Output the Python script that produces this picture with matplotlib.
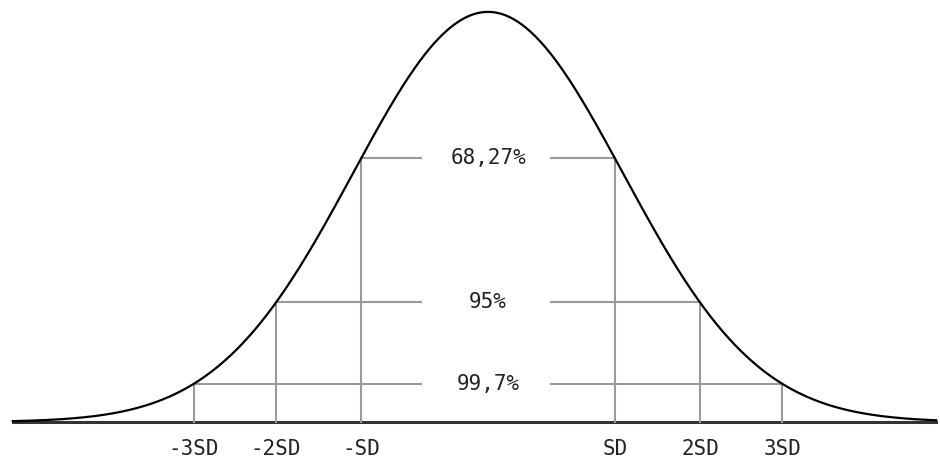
import numpy as np
import matplotlib.pyplot as plt

# distances (in sd units) where the bands meet the curve
sd_pos = [0.94, 1.57, 2.18]
band_labels = ["68,27%", "95%", "99,7%"]
tick_labels = ["-3SD", "-2SD", "-SD", "SD", "2SD", "3SD"]
tick_pos = [-2.18, -1.57, -0.94, 0.94, 1.57, 2.18]


def curve(z):
    return np.exp(-z ** 2 / 2)


fig = plt.figure(figsize=(9.4, 4.65), dpi=100)
ax = fig.add_axes([0, 0, 1, 1])
ax.set_xlim(-3.615, 3.348)
ax.set_ylim(-0.105, 1.029)
ax.axis("off")

z = np.linspace(-3.52, 3.32, 600)
ax.plot(z, curve(z), color="black", lw=1.6, zorder=3)
ax.plot([-3.52, 3.32], [0, 0], color="#333333", lw=2.2, zorder=2)

gap_l, gap_r = -0.50, 0.47
grey = "#9a9a9a"
for d, lab in zip(sd_pos, band_labels):
    h = curve(d)
    ax.plot([-d, gap_l], [h, h], color=grey, lw=1.5)
    ax.plot([gap_r, d], [h, h], color=grey, lw=1.5)
    ax.plot([-d, -d], [0, h], color=grey, lw=1.5)
    ax.plot([d, d], [0, h], color=grey, lw=1.5)
    ax.text(0.0, h, lab, ha="center", va="center", fontsize=15,
            family="DejaVu Sans Mono", color="#222222")

for p, lab in zip(tick_pos, tick_labels):
    ax.text(p, -0.067, lab, ha="center", va="center", fontsize=15,
            family="DejaVu Sans Mono", color="#222222")

plt.savefig("out.png", dpi=100, facecolor="white")
